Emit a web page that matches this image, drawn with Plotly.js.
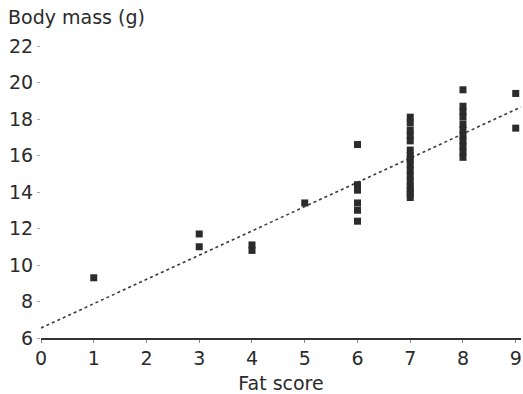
<!DOCTYPE html>
<html>
<head>
<meta charset="utf-8">
<script src="https://cdn.plot.ly/plotly-3.0.1.min.js"></script>
<style>html,body{margin:0;padding:0;background:#fff;}</style>
</head>
<body>
<div id="chart" style="width:523px;height:394px;"></div>
<script>
// Fat score (x) and body mass in grams (y) for each bird
const fatScore = [
  1,
  3, 3,
  4, 4,
  5,
  6, 6, 6, 6, 6, 6,
  7, 7, 7, 7, 7, 7, 7, 7, 7, 7, 7, 7, 7, 7, 7, 7,
  8, 8, 8, 8, 8, 8, 8, 8, 8, 8, 8,
  9, 9
];
const bodyMass = [
  9.3,
  11.7, 11.0,
  11.1, 10.8,
  13.4,
  16.6, 14.4, 14.1, 13.4, 13.0, 12.4,
  18.1, 17.8, 17.4, 17.1, 16.3, 16.0, 15.8, 15.5, 14.9, 14.6, 14.3, 14.1, 13.9, 13.7, 15.2, 16.8,
  19.6, 18.7, 18.4, 18.1, 17.7, 17.4, 17.1, 16.8, 16.5, 16.2, 15.9,
  19.4, 17.5
];
// Fitted regression line end points
const fitX = [0, 9.1];
const fitY = [6.55, 18.65];
const xTicks = [0, 1, 2, 3, 4, 5, 6, 7, 8, 9];
const yTicks = [6, 8, 10, 12, 14, 16, 18, 20, 22];

const font = "DejaVu Sans, Verdana, sans-serif";
const data = [
  {
    x: fitX, y: fitY, type: 'scatter', mode: 'lines',
    line: {color: '#3a3a3a', width: 1.6, dash: 'dot'},
    hoverinfo: 'skip'
  },
  {
    x: fatScore, y: bodyMass, type: 'scatter', mode: 'markers',
    marker: {symbol: 'square', size: 7, color: '#2b2b2b'}
  }
];
const layout = {
  width: 523, height: 394,
  margin: {l: 41, r: 2, t: 46, b: 56},
  paper_bgcolor: '#fff', plot_bgcolor: '#fff',
  showlegend: false,
  font: {family: font, size: 19, color: '#2a2a2a'},
  title: {text: 'Body mass (g)', x: 8/523, xanchor: 'left', xref: 'container',
          y: 1 - 17/394, yanchor: 'middle', yref: 'container',
          font: {family: font, size: 19, color: '#2a2a2a'}},
  xaxis: {
    range: [0, 9.1], tickvals: xTicks, ticktext: xTicks.map(String),
    showgrid: false, zeroline: false, showline: true, linecolor: '#333', linewidth: 1.5,
    ticks: 'outside', ticklen: 3, tickcolor: '#888', tickwidth: 1,
    tickfont: {family: font, size: 19, color: '#2a2a2a'},
    title: {text: 'Fat score', standoff: 8, font: {family: font, size: 19, color: '#2a2a2a'}},
    automargin: false, fixedrange: true
  },
  yaxis: {
    range: [6, 22], tickvals: yTicks, ticktext: yTicks.map(String),
    showgrid: false, zeroline: false, showline: false,
    ticks: 'outside', ticklen: 3, tickcolor: '#aaa', tickwidth: 1,
    tickfont: {family: font, size: 19, color: '#2a2a2a'},
    automargin: false, fixedrange: true
  }
};
Plotly.newPlot('chart', data, layout, {displayModeBar: false, staticPlot: true});
</script>
</body>
</html>
